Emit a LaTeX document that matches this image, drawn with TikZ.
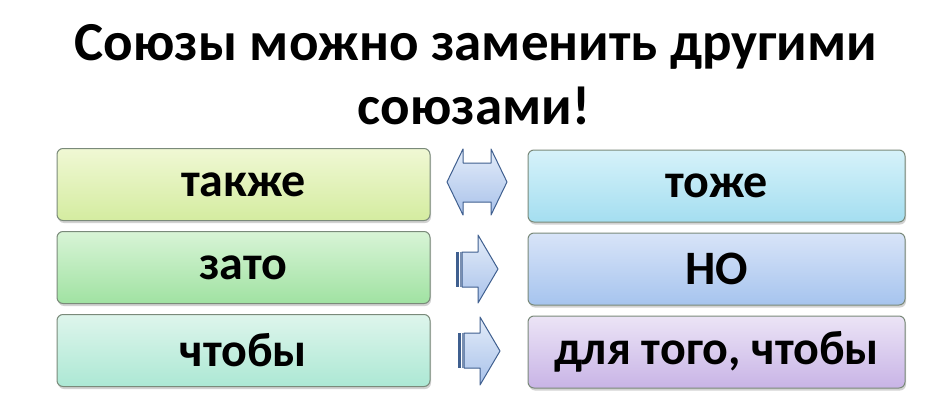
\documentclass[tikz,border=0pt]{standalone}
\usepackage{fontspec}
\setmainfont{Carlito}
\usetikzlibrary{shadows}
\definecolor{bordr}{HTML}{7A8A7A}
\definecolor{arrbd}{HTML}{3F5F8F}
\tikzset{
  box/.style={draw=bordr, line width=1pt, rounded corners=6pt, inner sep=0pt,
    minimum height=72pt, font=\bfseries\fontsize{48}{56}\selectfont,
    drop shadow={opacity=0.35, shadow xshift=1pt, shadow yshift=-2.5pt}},
  lbox/.style={box, minimum width=373pt},
  rbox/.style={box, minimum width=377pt},
  blockarrow/.style={draw=arrbd, line width=1pt, line join=round, top color=arrtop, bottom color=arrbot},
  title/.style={font=\bfseries\fontsize{55}{64}\selectfont}
}
\definecolor{arrtop}{HTML}{E3ECF9}
\definecolor{arrbot}{HTML}{A9C2EA}
\begin{document}
\begin{tikzpicture}[x=1pt,y=-1pt]
\useasboundingbox (0,0) rectangle (948,404);
\fill[white] (0,0) rectangle (948,404);
\node[title] (t1) at (476,47) {Союзы можно заменить другими};
\node[title] (t2) at (474,106) {союзами!};
\node[lbox, top color={rgb,255:red,240;green,248;blue,212}, bottom color={rgb,255:red,212;green,236;blue,160}] (l1) at (243.5,184.5) {также};
\node[lbox, top color={rgb,255:red,216;green,244;blue,214}, bottom color={rgb,255:red,160;green,226;blue,162}] (l2) at (243.5,267.5) {зато};
\node[lbox, top color={rgb,255:red,222;green,245;blue,236}, bottom color={rgb,255:red,172;green,232;blue,212}] (l3) at (243.5,350.5) {чтобы};
\node[rbox, top color={rgb,255:red,214;green,242;blue,250}, bottom color={rgb,255:red,164;green,222;blue,240}] (r1) at (716.5,186) {тоже};
\node[rbox, top color={rgb,255:red,216;green,228;blue,248}, bottom color={rgb,255:red,166;green,196;blue,238}] (r2) at (716.5,269) {НО};
\node[rbox, top color={rgb,255:red,236;green,228;blue,246}, bottom color={rgb,255:red,200;green,180;blue,230}] (r3) at (716.5,352) {для того, чтобы};
% double arrow
\path[blockarrow] (447,182) -- (463,149) -- (463,163) -- (491,163) -- (491,149) -- (507,182) -- (491,215) -- (491,202) -- (463,202) -- (463,215) -- cycle;
% arrow 2
\path[blockarrow] (462,252) -- (478,252) -- (478,235) -- (498,269) -- (478,303) -- (478,287) -- (462,287) -- cycle;
\fill[arrbd] (456,252) rectangle (458.5,287);
\fill[arrbd!70] (459.5,252) rectangle (461.5,287);
% arrow 3
\path[blockarrow] (464,333) -- (480,333) -- (480,317) -- (500,351) -- (480,385) -- (480,368) -- (464,368) -- cycle;
\fill[arrbd] (458,333) rectangle (460.5,368);
\fill[arrbd!70] (461.5,333) rectangle (463.5,368);
\end{tikzpicture}
\end{document}
